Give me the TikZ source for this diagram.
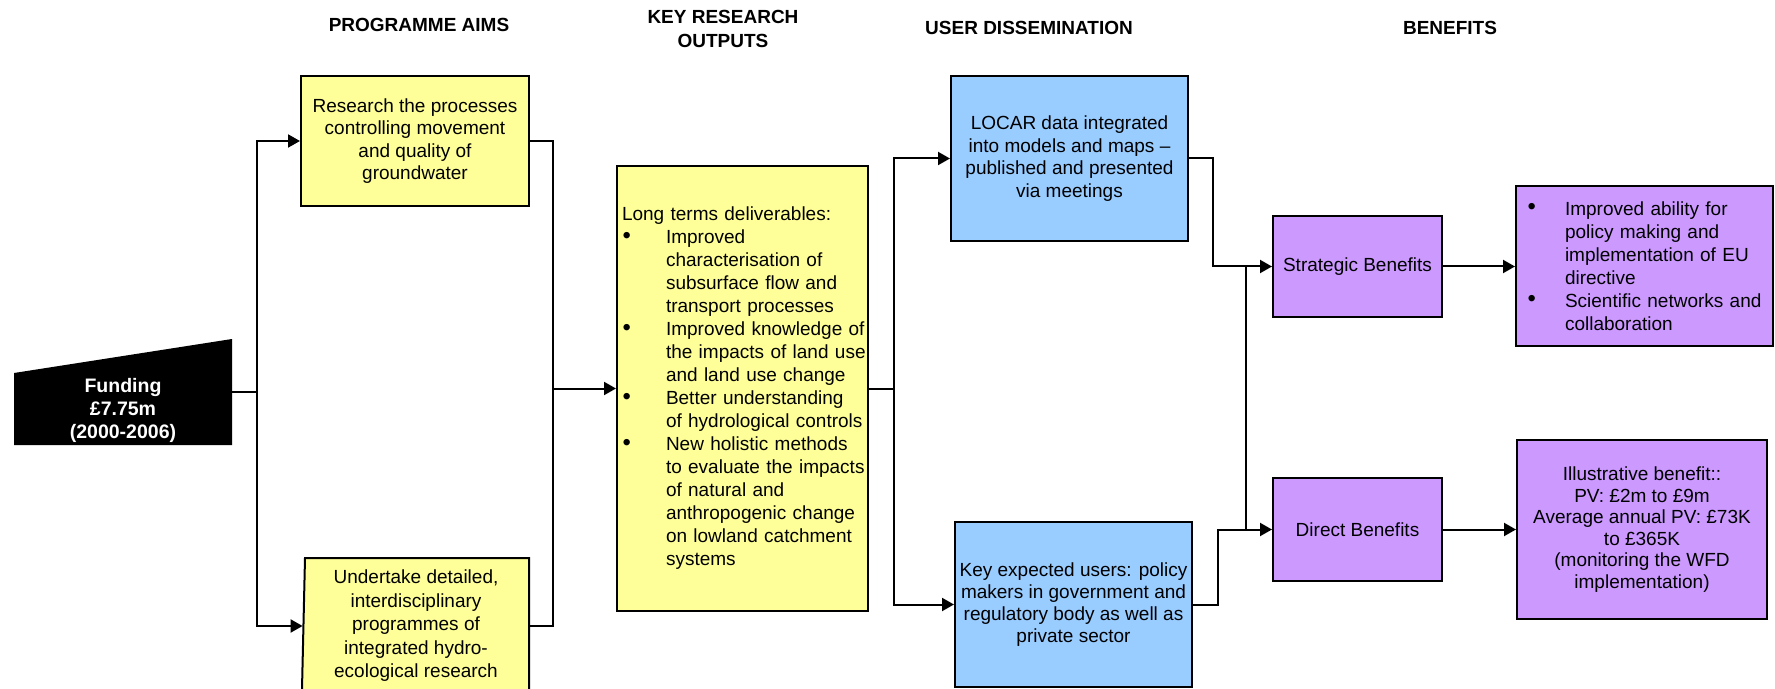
\documentclass[tikz,border=0pt]{standalone}
\usepackage{fontspec}
\setmainfont{Liberation Sans}
\usetikzlibrary{arrows.meta}
\definecolor{yel}{HTML}{FFFF99}
\definecolor{blu}{HTML}{99CCFF}
\definecolor{pur}{HTML}{CC99FF}
\newcommand{\myBody}[1]{\fontsize{9.5}{#1}\selectfont}
\newcommand{\myHead}{\fontsize{9.5}{12}\selectfont\bfseries}
\newcommand{\myBul}[2]{\makebox[#1][l]{\hspace*{0.3pt}\raisebox{0.2pt}{\scalebox{1.25}{•}}}\mbox{#2}}
\newcommand{\myInd}[2]{\hspace*{#1}\mbox{#2}}
\begin{document}
\begin{tikzpicture}[x=0.5pt,y=-0.5pt,
  box/.style={draw=black, line width=1pt, inner sep=0pt, align=center},
  conn/.style={line width=1pt, -{Triangle[length=6pt,width=6.5pt]}},
  plain/.style={line width=1pt},
  head/.style={font=\myHead, align=center, inner sep=0pt}]
\useasboundingbox (0,0) rectangle (1775,689);

% headers
\node[head] (h1) at (419,25) {PROGRAMME AIMS};
\node[head] (h2) at (723,29) {KEY RESEARCH\\OUTPUTS};
\node[head] (h3) at (1029,28) {USER DISSEMINATION};
\node[head] (h4) at (1450,28) {BENEFITS};

% funding
\fill[black] (14,373) -- (232,339) -- (232,445) -- (14,445) -- cycle;
\node[font=\fontsize{9.75}{11.5}\selectfont\bfseries, text=white, align=center,
      minimum width=109pt, inner sep=0pt] (fund) at (123,410)
  {Funding\\£7.75m\\(2000-2006)};
\coordinate (fo) at (232,392);

% programme aims
\node[box, fill=yel, minimum width=114pt, minimum height=65pt,
      font=\myBody{11.25}] (res) at (415,141)
  {Research the processes\\controlling movement\\and quality of\\groundwater};
\fill[yel] (302,689) -- (305,558) -- (529,558) -- (529,689) -- cycle;
\draw[line width=1pt] (302,689) -- (305,558) -- (529,558) -- (529,689);
\node[align=center, inner sep=0pt, minimum width=113pt, font=\myBody{11.75}]
  (und) at (416,626)
  {Undertake detailed,\\interdisciplinary\\programmes of\\integrated hydro-\\ecological research};

% key research outputs
\node[box, fill=yel, minimum width=125.5pt, minimum height=222.5pt,
      text width=120.5pt, inner xsep=2.5pt, align=left, font=\myBody{11.5}]
  (long) at (742.5,388.5)
  {\mbox{Long terms deliverables:}\\
   \myBul{22pt}{Improved}\\
   \myInd{22pt}{characterisation of}\\
   \myInd{22pt}{subsurface flow and}\\
   \myInd{22pt}{transport processes}\\
   \myBul{22pt}{Improved knowledge of}\\
   \myInd{22pt}{the impacts of land use}\\
   \myInd{22pt}{and land use change}\\
   \myBul{22pt}{Better understanding}\\
   \myInd{22pt}{of hydrological controls}\\
   \myBul{22pt}{New holistic methods}\\
   \myInd{22pt}{to evaluate the impacts}\\
   \myInd{22pt}{of natural and}\\
   \myInd{22pt}{anthropogenic change}\\
   \myInd{22pt}{on lowland catchment}\\
   \myInd{22pt}{systems}};

% user dissemination
\node[box, fill=blu, minimum width=118.5pt, minimum height=82.5pt,
      font=\myBody{11.2}] (loc) at (1069.5,158.5)
  {LOCAR data integrated\\into models and maps --\\published and presented\\via meetings};
\node[box, fill=blu, minimum width=118.5pt, minimum height=82.5pt,
      font=\myBody{11}] (key) at (1073.5,604.5)
  {Key expected users: policy\\makers in government and\\regulatory body as well as\\private sector};

% benefits
\node[box, fill=pur, minimum width=84.5pt, minimum height=50.5pt,
      font=\myBody{11}] (str) at (1357.5,266.5) {Strategic Benefits};
\node[box, fill=pur, minimum width=84.5pt, minimum height=51.5pt,
      font=\myBody{11}] (dir) at (1357.5,529.5) {Direct Benefits};
\node[box, fill=pur, minimum width=128.5pt, minimum height=80pt,
      text width=117.5pt, inner xsep=5.5pt, align=left, font=\myBody{11.5}]
  (sb) at (1644.5,266)
  {\myBul{19pt}{Improved ability for}\\
   \myInd{19pt}{policy making and}\\
   \myInd{19pt}{implementation of EU}\\
   \myInd{19pt}{directive}\\
   \myBul{19pt}{Scientific networks and}\\
   \myInd{19pt}{collaboration}};
\node[box, fill=pur, minimum width=125pt, minimum height=89.5pt,
      font=\myBody{10.75}] (ill) at (1642,529.5)
  {Illustrative benefit::\\PV: £2m to £9m\\Average annual PV: £73K\\to £365K\\(monitoring the WFD\\implementation)};

% connectors
\coordinate (j1) at (257,392);
\draw[plain] (fo) -- (j1);
\draw[conn] (j1) |- (res.west);
\draw[conn] (j1) |- (und.west);
\coordinate (j2) at (553,388.5);
\draw[plain] (res.east) -| (j2);
\draw[plain] (und.east) -| (j2);
\draw[conn] (j2) -- (long.west);
\coordinate (j3) at ([xshift=12.5pt]long.east);
\draw[plain] (long.east) -- (j3);
\draw[conn] (j3) |- (loc.west);
\draw[conn] (j3) |- (key.west);
\draw[conn] (loc.east) -- ++(12pt,0) |- (str.west);
\draw[conn] (key.east) -- ++(12.5pt,0) |- (dir.west);
\draw[plain] ([xshift=-13pt]str.west) -- ([xshift=-13pt]str.west |- dir.west);
\draw[conn] (str.east) -- (sb.west |- str.east);
\draw[conn] (dir.east) -- (ill.west |- dir.east);
\end{tikzpicture}
\end{document}
